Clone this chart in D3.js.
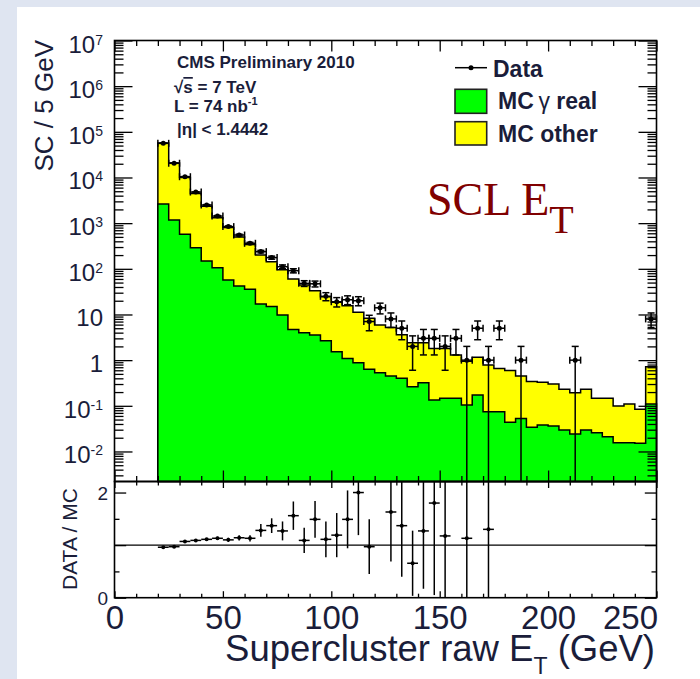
<!DOCTYPE html>
<html>
<head>
<meta charset="UTF-8">
<title>SCL ET</title>
<script src="https://cdnjs.cloudflare.com/ajax/libs/d3/7.8.5/d3.min.js"></script>
<style>
  body { margin: 0; background: #dfe5f1; }
  svg { display: block; }
  text { font-family: "Liberation Sans", Arial, Helvetica, sans-serif; fill: #1a1d3a; }
</style>
</head>
<body>
<script>
// low edges of the 5 GeV bins (last one holds the overflow)
var binLow = [20,25,30,35,40,45,50,55,60,65,70,75,80,85,90,95,100,105,110,115,120,125,130,135,140,145,
              150,155,160,165,170,175,180,185,190,195,200,205,210,215,220,225,230,235,240,245];
var binWidth = 5;

// stacked MC total (top of yellow) and MC gamma real (green)
var mcTotal = [57000,20800,10000,4450,2350,1320,800,500,340,200,142,95,60,44,33,24.5,18.5,15.5,11.2,8.3,
               5.9,5.2,3.6,2.4,2.4,1.8,1.8,1.3,0.95,1.15,0.78,0.66,0.59,0.45,0.34,0.33,0.30,0.23,0.194,0.23,
               0.146,0.146,0.099,0.11,0.084,0.72];
var mcReal = [2630,1175,570,291,149,106,57,42,35.6,17,14.9,9.8,4.7,4.0,3.56,2.67,1.53,1.08,0.88,0.63,
              0.53,0.45,0.40,0.26,0.32,0.134,0.146,0.146,0.104,0.173,0.074,0.074,0.0435,0.053,0.034,0.038,
              0.036,0.0296,0.0242,0.0296,0.0258,0.0211,0.0156,0.0156,0.0151,0.11];

// data counts and their errors
var dataCount = [56000,20500,10400,4800,2500,1430,840,550,362,238,176,111,91,48,47,25,19,21,20,7,
                 14,8,5,2,3,3,2,3,1,5,1,5,0,1,0,0,0,0,1,0,0,0,0,0,0,8];
var dataErr = [237,143,102,69,50,38,29,23,19,15.4,13.3,10.5,9.5,6.9,6.9,5,4.4,4.6,4.5,2.6,
               3.7,2.8,2.2,1.4,1.7,1.7,1.4,1.7,1,2.2,1,2.2,0,1,0,0,0,0,1,0,0,0,0,0,0,2.8];

// data / MC ratio (null = outside the panel)
var ratioVal = [0.96,0.97,1.07,1.09,1.11,1.13,1.10,1.14,1.13,1.28,1.37,1.27,1.56,1.09,1.49,1.11,1.19,1.49,2.0,0.97,
                null,1.63,1.37,0.655,1.27,1.80,1.175,null,1.13,null,1.30,
                null,null,null,null,null,null,null,null,null,null,null,null,null,null,null];
var ratioErr = [0.01,0.01,0.015,0.02,0.025,0.03,0.04,0.05,0.06,0.12,0.14,0.18,0.27,0.24,0.35,0.34,0.42,0.55,0.81,0.52,
                0,0.94,0.97,0.62,1.1,1.75,1.2,0,1.15,0,1.35,
                0,0,0,0,0,0,0,0,0,0,0,0,0,0,0];

// tick labels
var xTickValues = [0,50,100,150,200,250];
var yTickValues = [1e-2,1e-1,1,10,1e2,1e3,1e4,1e5,1e6,1e7];
var yTickLabels = [["10","-2"],["10","-1"],["1",""],["10",""],["10","2"],["10","3"],["10","4"],["10","5"],["10","6"],["10","7"]];
var ratioTickValues = [0,2];
var ratioTickLabels = ["0","2"];

var svg = d3.select("body").append("svg")
    .attr("width", 700)
    .attr("height", 679);

svg.append("rect")
    .attr("x", 17).attr("y", 7)
    .attr("width", 683).attr("height", 672)
    .attr("fill", "#fff");

// scales
var x = d3.scaleLinear().domain([0, 250]).range([114.5, 656.5]);
var y = d3.scaleLog().domain([0.0022, 1e7]).range([481.5, 40.5]);
var yr = d3.scaleLinear().domain([0, 2.21]).range([597.7, 481.5]);

var pL = x.range()[0], pR = x.range()[1],
    pTop = y.range()[1], pMid = y.range()[0], pBot = yr.range()[0];

// stacked histograms
function stepPath(vals) {
    var p = "M" + x(binLow[0]) + "," + pMid;
    vals.forEach(function(v, i) {
        p += "L" + x(binLow[i]) + "," + y(v) + "L" + x(binLow[i] + binWidth) + "," + y(v);
    });
    return p + "L" + x(binLow[binLow.length - 1] + binWidth) + "," + pMid + "Z";
}

svg.append("path")
    .attr("d", stepPath(mcTotal))
    .attr("fill", "#ffff00")
    .attr("stroke", "#000")
    .attr("stroke-width", 1.5);

svg.append("path")
    .attr("d", stepPath(mcReal))
    .attr("fill", "#00ff00")
    .attr("stroke", "#000")
    .attr("stroke-width", 1.5);

// ticks
function ticks(axis, tx, ty) {
    var g = svg.append("g")
        .attr("transform", "translate(" + tx + "," + ty + ")")
        .call(axis);
    g.select(".domain").remove();
    g.selectAll("line").attr("stroke", "#000").attr("stroke-width", 1.3);
    return g;
}

var xMinor = d3.range(0, 251, 10).filter(function(d) { return d % 50 !== 0; });
var yMinor = [];
for (var e = -3; e < 7; e++) {
    for (var m = 2; m < 10; m++) {
        var v = m * Math.pow(10, e);
        if (v > y.domain()[0] && v < y.domain()[1]) yMinor.push(v);
    }
}

ticks(d3.axisBottom(x).tickValues(xTickValues).tickSize(-11).tickFormat(""), 0, pMid);
ticks(d3.axisBottom(x).tickValues(xMinor).tickSize(-5.5).tickFormat(""), 0, pMid);
ticks(d3.axisTop(x).tickValues(xTickValues).tickSize(-11).tickFormat(""), 0, pTop);
ticks(d3.axisTop(x).tickValues(xMinor).tickSize(-5.5).tickFormat(""), 0, pTop);
ticks(d3.axisTop(x).tickValues(xTickValues).tickSize(-6.5).tickFormat(""), 0, pMid);
ticks(d3.axisTop(x).tickValues(xMinor).tickSize(-4).tickFormat(""), 0, pMid);
ticks(d3.axisBottom(x).tickValues(xTickValues).tickSize(-6.5).tickFormat(""), 0, pBot);
ticks(d3.axisBottom(x).tickValues(xMinor).tickSize(-4).tickFormat(""), 0, pBot);

ticks(d3.axisLeft(y).tickValues(yTickValues).tickSize(-18).tickFormat(""), pL, 0);
ticks(d3.axisLeft(y).tickValues(yMinor).tickSize(-9).tickFormat(""), pL, 0);
ticks(d3.axisRight(y).tickValues(yTickValues).tickSize(-18).tickFormat(""), pR, 0);
ticks(d3.axisRight(y).tickValues(yMinor).tickSize(-9).tickFormat(""), pR, 0);

ticks(d3.axisLeft(yr).tickValues([0, 1, 2]).tickSize(-11.7).tickFormat(""), pL, 0);
ticks(d3.axisLeft(yr).tickValues([0.5, 1.5]).tickSize(-5).tickFormat(""), pL, 0);
ticks(d3.axisRight(yr).tickValues([0, 1, 2]).tickSize(-11.7).tickFormat(""), pR, 0);
ticks(d3.axisRight(yr).tickValues([0.5, 1.5]).tickSize(-5).tickFormat(""), pR, 0);

// frames
svg.append("rect")
    .attr("x", pL).attr("y", pTop)
    .attr("width", pR - pL).attr("height", pMid - pTop)
    .attr("fill", "none").attr("stroke", "#000").attr("stroke-width", 1.6);
svg.append("rect")
    .attr("x", pL).attr("y", pMid)
    .attr("width", pR - pL).attr("height", pBot - pMid)
    .attr("fill", "none").attr("stroke", "#000").attr("stroke-width", 1.6);

// ratio = 1 line
svg.append("line")
    .attr("x1", pL).attr("x2", pR)
    .attr("y1", yr(1)).attr("y2", yr(1))
    .attr("stroke", "#000").attr("stroke-width", 1.3);

// data points
var pts = svg.append("g").attr("stroke", "#000").attr("stroke-width", 1.5);
function seg(g, x1, y1, x2, y2) {
    g.append("line").attr("x1", x1).attr("y1", y1).attr("x2", x2).attr("y2", y2);
}
binLow.forEach(function(lo, i) {
    var n = dataCount[i];
    if (!(n > 0)) return;
    var er = dataErr[i],
        cx = x(lo + binWidth / 2), cy = y(n),
        x0 = x(lo), x1 = x(lo + binWidth),
        yHi = y(n + er),
        clipped = (n - er) <= y.domain()[0],
        yLo = clipped ? pMid : y(n - er);
    seg(pts, x0, cy, x1, cy);
    seg(pts, cx, yHi, cx, yLo);
    seg(pts, cx - 3.5, yHi, cx + 3.5, yHi);
    if (!clipped) seg(pts, cx - 3.5, yLo, cx + 3.5, yLo);
    seg(pts, x0, cy - 3.5, x0, cy + 3.5);
    seg(pts, x1, cy - 3.5, x1, cy + 3.5);
    pts.append("circle").attr("cx", cx).attr("cy", cy).attr("r", 2.5).attr("fill", "#000").attr("stroke", "none");
});

// ratio points
var rp = svg.append("g").attr("stroke", "#000").attr("stroke-width", 1.5);
var rMax = yr.domain()[1];
binLow.forEach(function(lo, i) {
    var r = ratioVal[i];
    if (r === null) return;
    var cx = x(lo + binWidth / 2), cy = yr(r);
    seg(rp, x(lo), cy, x(lo + binWidth), cy);
    seg(rp, cx, yr(Math.min(r + ratioErr[i], rMax)), cx, yr(Math.max(r - ratioErr[i], 0)));
    rp.append("circle").attr("cx", cx).attr("cy", cy).attr("r", 2).attr("fill", "#000").attr("stroke", "none");
});

// x tick labels
var xl = svg.append("g")
    .attr("transform", "translate(0," + pBot + ")")
    .call(d3.axisBottom(x).tickValues(xTickValues).tickSize(0).tickPadding(8));
xl.select(".domain").remove();
xl.selectAll("text").attr("font-size", 33);
xl.selectAll("text").filter(function(d) { return d === 250; })
    .attr("text-anchor", "end").attr("x", 1);

// y tick labels
yTickValues.forEach(function(v, i) {
    var t = svg.append("text")
        .attr("x", 103)
        .attr("y", y(v) + 12)
        .attr("text-anchor", "end")
        .attr("font-size", 24)
        .text(yTickLabels[i][0]);
    if (yTickLabels[i][1]) {
        t.append("tspan")
            .attr("font-size", 14)
            .attr("dy", -8)
            .text(yTickLabels[i][1]);
    }
});

ratioTickValues.forEach(function(v, i) {
    svg.append("text")
        .attr("x", 108)
        .attr("y", yr(v) + 7)
        .attr("text-anchor", "end")
        .attr("font-size", 19)
        .text(ratioTickLabels[i]);
});

// axis titles
var xt = svg.append("text")
    .attr("x", 655)
    .attr("y", 661)
    .attr("text-anchor", "end")
    .attr("font-size", 36.5)
    .text("Supercluster raw E");
xt.append("tspan").attr("font-size", 23).attr("dy", 13).text("T");
xt.append("tspan").attr("dy", -13).text(" (GeV)");

svg.append("text")
    .attr("transform", "translate(53,40) rotate(-90)")
    .attr("text-anchor", "end")
    .attr("font-size", 26)
    .text("SC / 5 GeV");

svg.append("text")
    .attr("transform", "translate(77,590) rotate(-90)")
    .attr("font-size", 21)
    .text("DATA / MC");

// CMS label
var info = svg.append("g").attr("font-weight", "bold").attr("font-size", 17);
info.append("text").attr("x", 177).attr("y", 68).text("CMS Preliminary 2010");
var rs = info.append("text").attr("x", 174).attr("y", 93).text("\u221A");
rs.append("tspan").style("text-decoration", "overline").text("s");
rs.append("tspan").text(" = 7 TeV");
var lum = info.append("text").attr("x", 174).attr("y", 111.7).text("L = 74 nb");
lum.append("tspan").attr("font-size", 11).attr("dy", -7).text("-1");
info.append("text").attr("x", 177).attr("y", 135).text("|\u03B7| < 1.4442");

// legend
var leg = svg.append("g");
leg.append("line").attr("x1", 455).attr("x2", 487).attr("y1", 67.7).attr("y2", 67.7)
    .attr("stroke", "#000").attr("stroke-width", 1.5);
leg.append("circle").attr("cx", 471).attr("cy", 67.7).attr("r", 2.5).attr("fill", "#000");
leg.append("rect").attr("x", 455).attr("y", 89.3).attr("width", 31.7).attr("height", 24)
    .attr("fill", "#00ff00").attr("stroke", "#222").attr("stroke-width", 1.6);
leg.append("rect").attr("x", 455).attr("y", 121.7).attr("width", 31.7).attr("height", 23.3)
    .attr("fill", "#ffff00").attr("stroke", "#222").attr("stroke-width", 1.6);
leg.append("text").attr("x", 493).attr("y", 76.7).attr("font-size", 23).attr("font-weight", "bold").text("Data");
var g1 = leg.append("text").attr("x", 498).attr("y", 109).attr("font-size", 23).attr("font-weight", "bold").text("MC");
g1.append("tspan").attr("font-weight", "normal").text("\u2009\u03B3");
g1.append("tspan").text(" real");
leg.append("text").attr("x", 498).attr("y", 141.7).attr("font-size", 23).attr("font-weight", "bold").text("MC other");

// SCL ET tag
var tag = svg.append("text")
    .attr("x", 427)
    .attr("y", 215)
    .attr("font-size", 46)
    .style("font-family", "'Liberation Serif', 'Times New Roman', serif")
    .style("fill", "#800000")
    .text("SCL E");
tag.append("tspan").attr("font-size", 40).attr("dy", 18).text("T");
</script>
</body>
</html>
